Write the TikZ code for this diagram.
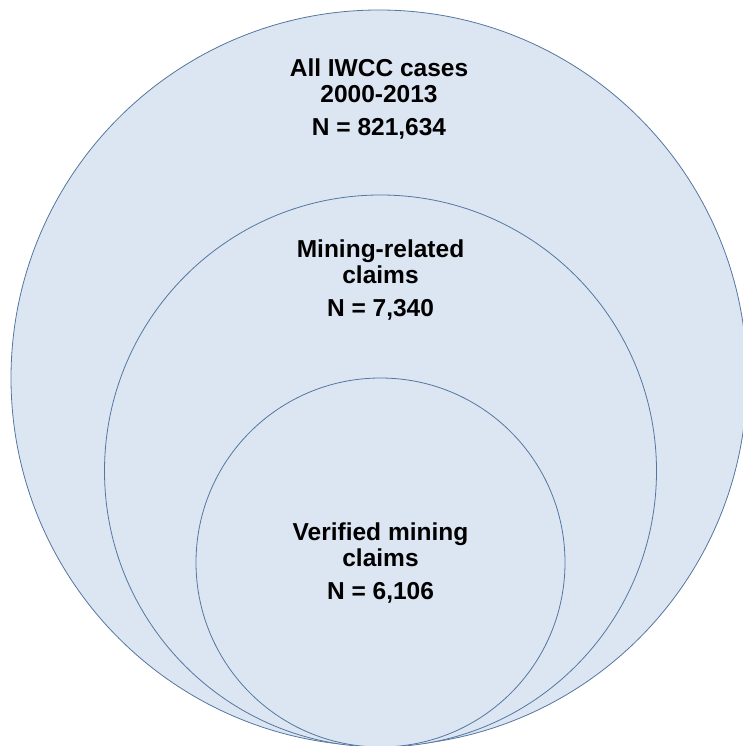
\documentclass[tikz,border=0pt]{standalone}
\usepackage{fontspec}
\setmainfont{Liberation Sans}
\usetikzlibrary{positioning}
\definecolor{setfill}{RGB}{220, 230, 242}
\definecolor{setline}{RGB}{84, 118, 160}

\begin{document}
\begin{tikzpicture}[x=1pt, y=-1pt]
    \tikzset{
        setcircle/.style={
            circle,
            fill=setfill,
            draw=setline,
            line width=0.8pt,
            inner sep=0pt
        },
        setlabel/.style={
            align=center,
            inner sep=0pt,
            font=\fontsize{24.5}{26}\selectfont\bfseries
        }
    }
    \useasboundingbox (0,0) rectangle (743,746);

    % nested sets, all touching at the bottom
    \node[setcircle, minimum size=736pt] (allcases) at (379,378) {};
    \node[setcircle, minimum size=552pt] (mining) at (380.5,471) {};
    \node[setcircle, minimum size=369pt] (verified) at (380.5,562.5) {};

    \node[setlabel, below=49pt of allcases.north] (allcaseslabel) {All IWCC cases\\2000-2013\\[7pt]N = 821,634};
    \node[setlabel, below=45pt of mining.north] (mininglabel) {Mining-related\\claims\\[7pt]N = 7,340};
    \node[setlabel, below=145pt of verified.north] (verifiedlabel) {Verified mining\\claims\\[7pt]N = 6,106};
\end{tikzpicture}
\end{document}
